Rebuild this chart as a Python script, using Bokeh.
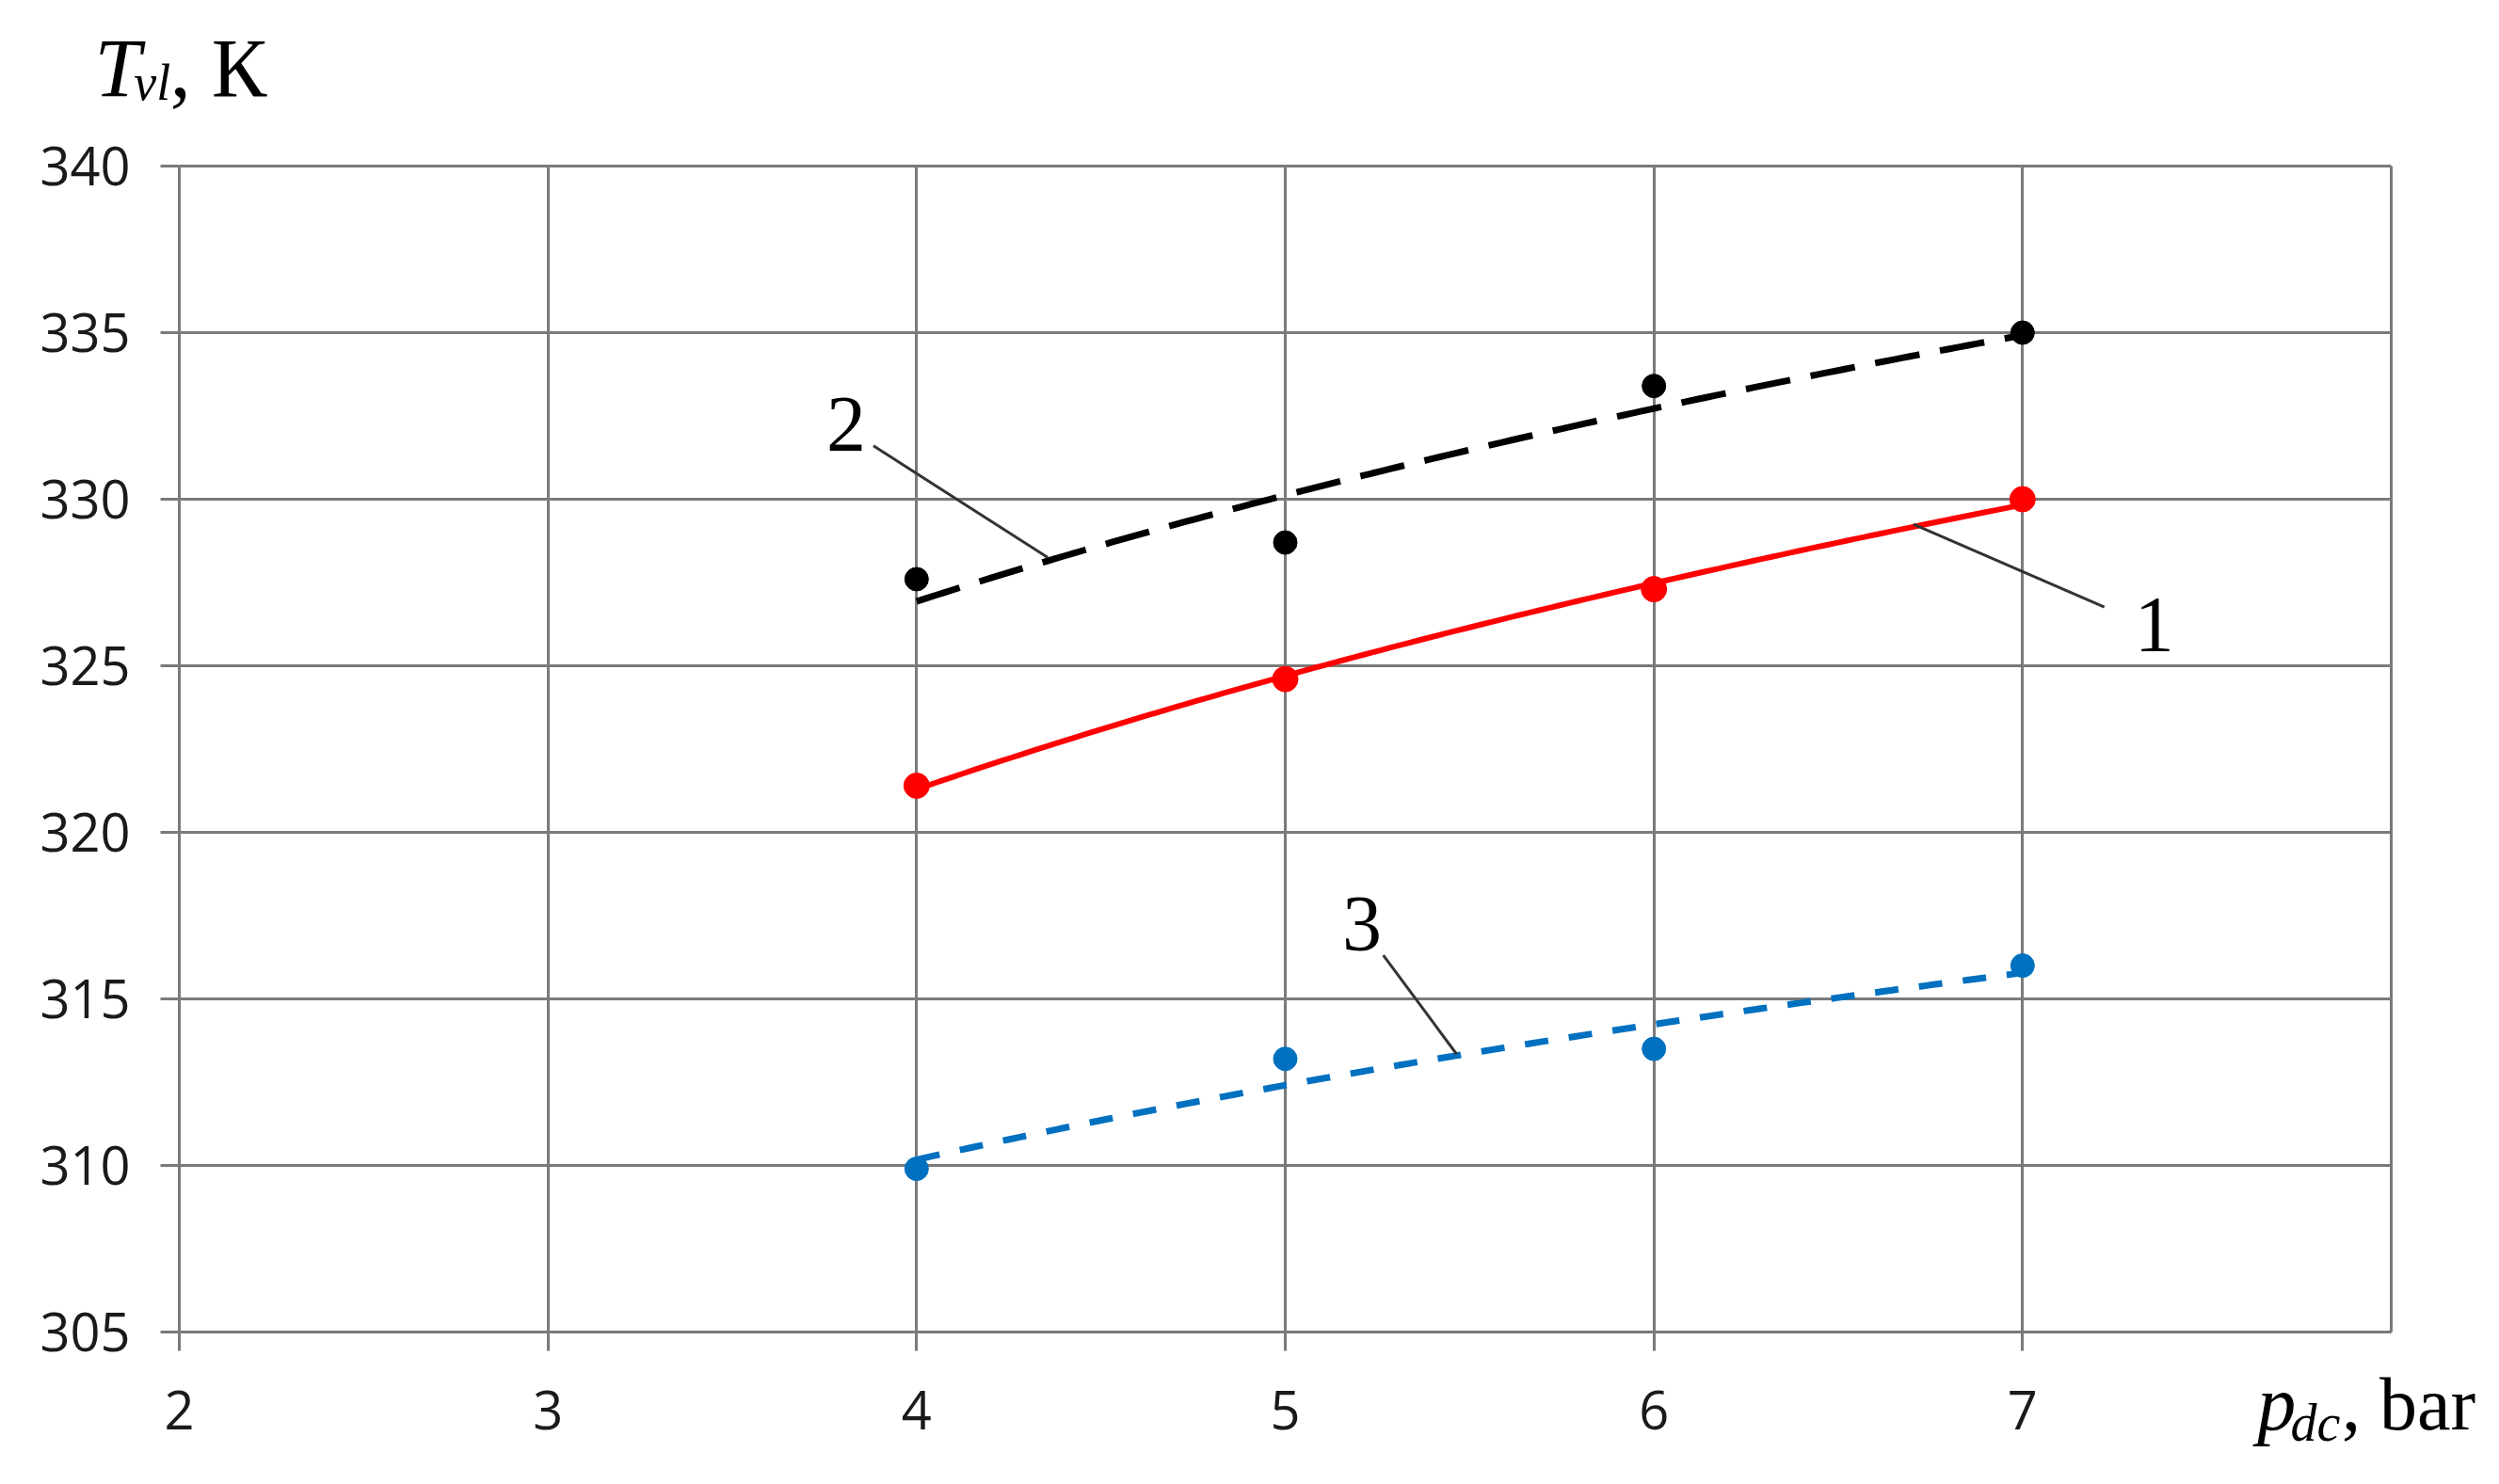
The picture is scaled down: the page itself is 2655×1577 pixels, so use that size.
import numpy as np
from bokeh.plotting import figure
from bokeh.models import Range1d, FixedTicker, ColumnDataSource
from bokeh.core.properties import value
from bokeh.embed import file_html
from bokeh.resources import INLINE

# ---- data ----
pressure = [4, 5, 6, 7]                      # p_dc, bar
t_curve1 = [321.4, 324.6, 327.3, 330.0]      # curve 1 (red)
t_curve2 = [327.6, 328.7, 333.4, 335.0]      # curve 2 (black)
t_curve3 = [309.9, 313.2, 313.5, 316.0]      # curve 3 (blue)

x_ticks = [2, 3, 4, 5, 6, 7]
x_grid = [2, 3, 4, 5, 6, 7, 8]
y_ticks = [305, 310, 315, 320, 325, 330, 335, 340]
x_bounds = (2, 8)
y_bounds = (305, 340)

curve_labels = ["1", "2", "3"]
label_x = [7.357, 3.809, 5.208]
label_y = [326.23, 332.25, 317.25]
leader_x0 = [6.704, 3.883, 5.266]
leader_y0 = [329.25, 331.60, 316.31]
leader_x1 = [7.222, 4.356, 5.465]
leader_y1 = [326.76, 328.25, 313.34]

# ---- layout: the frame fills the canvas; the box sits inside it ----
W, H = 2645, 1561
BOX_L, BOX_T, BOX_W, BOX_H = 190, 176, 2350, 1239
sx = BOX_W / (x_bounds[1] - x_bounds[0])
sy = BOX_H / (y_bounds[1] - y_bounds[0])
x0 = x_bounds[0] - BOX_L / sx
y1 = y_bounds[1] + BOX_T / sy

GRID = "#7a7a7a"
SERIF = "Liberation Serif"

p = figure(width=W, height=H,
           x_range=Range1d(x0, x0 + W / sx), y_range=Range1d(y1 - H / sy, y1),
           min_border=0, output_backend="svg", toolbar_location=None,
           background_fill_color="white", border_fill_color="white")
p.outline_line_color = None

p.xaxis.fixed_location = y_bounds[0]
p.yaxis.fixed_location = x_bounds[0]
p.xaxis.bounds = x_bounds
p.yaxis.bounds = y_bounds

for ax in (p.xaxis[0], p.yaxis[0]):
    ax.axis_line_color = GRID
    ax.axis_line_width = 3
    ax.major_tick_line_color = GRID
    ax.major_tick_line_width = 3
    ax.major_tick_out = 20
    ax.major_tick_in = 0
    ax.minor_tick_line_color = None
    ax.major_label_text_font = "Open Sans"
    ax.major_label_text_font_size = "56px"
    ax.major_label_text_color = "#1a1a1a"
p.yaxis.major_label_standoff = 32
p.xaxis.major_label_standoff = 42

p.xaxis.ticker = FixedTicker(ticks=x_ticks)
p.yaxis.ticker = FixedTicker(ticks=y_ticks)

# grid lines, limited to the box
xg, yg = p.xgrid[0], p.ygrid[0]
if "cross_bounds" in xg.properties():
    xg.ticker = FixedTicker(ticks=x_grid)
    yg.ticker = FixedTicker(ticks=y_ticks)
    xg.cross_bounds = y_bounds
    yg.cross_bounds = x_bounds
    for g in (xg, yg):
        g.grid_line_color = GRID
        g.grid_line_width = 3
        g.grid_line_alpha = 1.0
else:
    xg.visible = False
    yg.visible = False
    p.segment(x0=x_grid, y0=[y_bounds[0]] * len(x_grid),
              x1=x_grid, y1=[y_bounds[1]] * len(x_grid),
              line_color=GRID, line_width=3)
    p.segment(x0=[x_bounds[0]] * len(y_ticks), y0=y_ticks,
              x1=[x_bounds[1]] * len(y_ticks), y1=y_ticks,
              line_color=GRID, line_width=3)

# ---- trend lines (logarithmic fits of the read data) ----
xf = np.linspace(pressure[0], pressure[-1], 120)
def log_fit(ys):
    a, b = np.polyfit(np.log(pressure), ys, 1)
    return a * np.log(xf) + b

p.line(xf, log_fit(t_curve1), line_color="#ff0000", line_width=6)
p.line(xf, log_fit(t_curve2), line_color="black", line_width=7, line_dash="48 22")
p.line(xf, log_fit(t_curve3), line_color="#0070c0", line_width=7, line_dash="25 22")

p.scatter(pressure, t_curve1, size=27, fill_color="#ff0000", line_color="#ff0000")
p.scatter(pressure, t_curve2, size=25, fill_color="black", line_color="black")
p.scatter(pressure, t_curve3, size=25, fill_color="#0070c0", line_color="#0070c0")

# ---- leader lines and curve numbers ----
src = ColumnDataSource(dict(x0=leader_x0, y0=leader_y0, x1=leader_x1, y1=leader_y1))
p.segment(x0="x0", y0="y0", x1="x1", y1="y1", source=src,
          line_color="#333333", line_width=3)
p.text(x=label_x, y=label_y, text=curve_labels,
       text_font=value(SERIF), text_font_size="84px",
       text_align="center", text_baseline="alphabetic", text_color="black")

# ---- axis titles ----
def title_part(x, y, t, size, style="normal"):
    p.text(x=[x], y=[y], text=[t], text_font=value(SERIF), text_font_size=size,
           text_font_style=style, text_align="left",
           text_baseline="alphabetic", text_color="black")

title_part(1.770, 342.94, "T", "88px", "italic")
title_part(1.877, 342.49, "vl", "54px", "italic")
title_part(1.975, 342.94, ", К", "88px")

title_part(7.637, 302.85, "p", "82px", "italic")
title_part(7.727, 302.26, "dc", "56px", "italic")
title_part(7.866, 302.85, ", bar", "80px")

open("out.html", "w").write(file_html(p, INLINE))
